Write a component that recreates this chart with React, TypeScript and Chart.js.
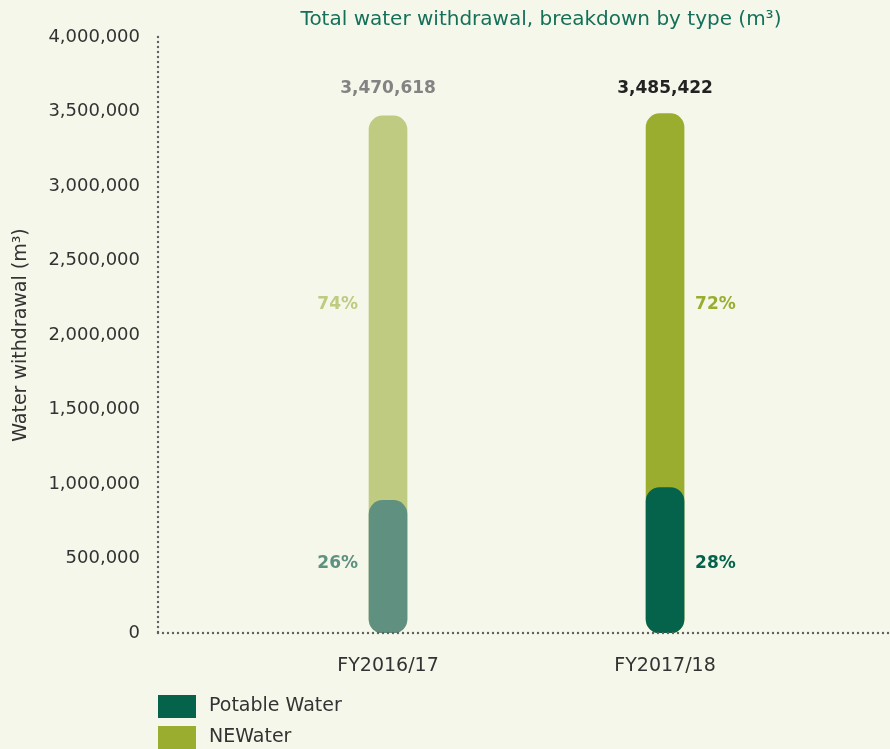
import React, { useEffect, useRef } from "react";
import { Chart, registerables } from "chart.js";

Chart.register(...registerables);

const categories = ["FY2016/17", "FY2017/18"];
const potable = [890000, 976000];
const newater = [2580618, 2509422];
const totalLabels = ["3,470,618", "3,485,422"];
const potablePct = ["26%", "28%"];
const newaterPct = ["74%", "72%"];
const yTicks = [0, 500000, 1000000, 1500000, 2000000, 2500000, 3000000, 3500000, 4000000];

const FONT = "'DejaVu Sans', sans-serif";
const BG = "#f5f7eb";
const potableColors = ["#5f9080", "#05634c"];
const newaterColors = ["#bfcb80", "#9aad2f"];
const totalColors = ["#838383", "#222222"];

export default function App() {
  const ref = useRef<HTMLCanvasElement | null>(null);

  useEffect(() => {
    document.body.style.margin = "0";
    const canvas = ref.current;
    if (!canvas) return;

    const totals = potable.map((p, i) => p + newater[i]);

    const decor = {
      id: "decor",
      beforeDraw(chart: any) {
        const ctx = chart.ctx;
        ctx.save();
        ctx.fillStyle = BG;
        ctx.fillRect(0, 0, chart.width, chart.height);
        ctx.restore();
      },
      afterDraw(chart: any) {
        const ctx = chart.ctx;
        const xs = chart.scales.x;
        const ys = chart.scales.y;
        const area = chart.chartArea;
        ctx.save();
        // dotted axes
        ctx.fillStyle = "#5f5f5f";
        for (let y = area.top; y <= area.bottom; y += 5) {
          ctx.beginPath();
          ctx.arc(area.left, y, 1.2, 0, Math.PI * 2);
          ctx.fill();
        }
        for (let x = area.left; x <= chart.width; x += 5) {
          ctx.beginPath();
          ctx.arc(x, area.bottom, 1.2, 0, Math.PI * 2);
          ctx.fill();
        }

        // title
        ctx.font = `20px ${FONT}`;
        ctx.fillStyle = "#15705a";
        ctx.textAlign = "center";
        ctx.textBaseline = "middle";
        ctx.fillText("Total water withdrawal, breakdown by type (m³)", 541, 20);

        const nMid =
          totals.reduce((s, t, i) => s + (t + potable[i]) / 2, 0) / totals.length;
        const pMid = potable.reduce((s, p) => s + p / 2, 0) / potable.length;
        const topVal = Math.max(...totals);

        categories.forEach((_, i) => {
          const x = xs.getPixelForValue(i + 1);
          // total label
          ctx.font = `bold 17px ${FONT}`;
          ctx.fillStyle = totalColors[i];
          ctx.textAlign = "center";
          ctx.textBaseline = "middle";
          ctx.fillText(totalLabels[i], x, ys.getPixelForValue(topVal) - 25);
          // percents
          ctx.font = `bold 17px ${FONT}`;
          const left = i === 0;
          ctx.textAlign = left ? "right" : "left";
          const lx = left ? x - 30 : x + 30;
          ctx.fillStyle = newaterColors[i];
          ctx.fillText(newaterPct[i], lx, ys.getPixelForValue(nMid));
          ctx.fillStyle = potableColors[i];
          ctx.fillText(potablePct[i], lx, ys.getPixelForValue(pMid));
        });

        // legend
        const items = [
          { label: "Potable Water", color: potableColors[1] },
          { label: "NEWater", color: newaterColors[1] },
        ];
        items.forEach((it, k) => {
          const top = 695 + k * 31;
          ctx.fillStyle = it.color;
          ctx.fillRect(158, top, 38, 23);
          ctx.font = `19px ${FONT}`;
          ctx.fillStyle = "#333333";
          ctx.textAlign = "left";
          ctx.textBaseline = "middle";
          ctx.fillText(it.label, 209, top + 11.5);
        });
        ctx.restore();
      },
    };

    const chart = new Chart(canvas, {
      type: "bar",
      data: {
        datasets: [
          {
            label: "Potable Water",
            data: potable.map((v, i) => ({ x: i + 1, y: v })),
            backgroundColor: potableColors,
            order: 0,
          },
          {
            label: "NEWater",
            data: totals.map((v, i) => ({ x: i + 1, y: v })),
            backgroundColor: newaterColors,
            order: 1,
          },
        ],
      } as any,
      options: {
        animation: false,
        responsive: true,
        maintainAspectRatio: false,
        layout: { padding: { top: 37, right: 0, bottom: 0, left: 0 } },
        datasets: {
          bar: {
            grouped: false,
            barThickness: 38,
            borderRadius: 14,
            borderSkipped: false,
          },
        } as any,
        plugins: {
          legend: { display: false },
          tooltip: { enabled: false },
          title: { display: false },
        },
        scales: {
          x: {
            type: "linear",
            offset: false,
            min: 0.1697,
            max: 2.812,
            grid: { display: false, drawTicks: false, offset: false },
            border: { display: false },
            afterBuildTicks: (scale: any) => {
              scale.ticks = categories.map((_, i) => ({ value: i + 1 }));
            },
            afterFit: (scale: any) => {
              scale.height = 116;
            },
            ticks: {
              padding: 22,
              color: "#333333",
              font: { family: FONT, size: 19 },
              callback: (v: any) => categories[Number(v) - 1] ?? "",
            },
          },
          y: {
            min: 0,
            max: 4000000,
            grid: { display: false, drawTicks: false },
            border: { display: false },
            afterBuildTicks: (scale: any) => {
              scale.ticks = yTicks.map((v) => ({ value: v }));
            },
            afterFit: (scale: any) => {
              scale.width = 158;
            },
            ticks: {
              padding: 18,
              color: "#333333",
              font: { family: FONT, size: 18 },
              callback: (v: any) => Number(v).toLocaleString("en-US"),
            },
            title: {
              display: true,
              text: "Water withdrawal (m³)",
              color: "#333333",
              font: { family: FONT, size: 19 },
              padding: { top: 10, bottom: 0 },
            },
          },
        } as any,
      },
      plugins: [decor],
    });

    return () => chart.destroy();
  }, []);

  return (
    <div style={{ position: "relative", width: 890, height: 749 }}>
      <canvas ref={ref} />
    </div>
  );
}
